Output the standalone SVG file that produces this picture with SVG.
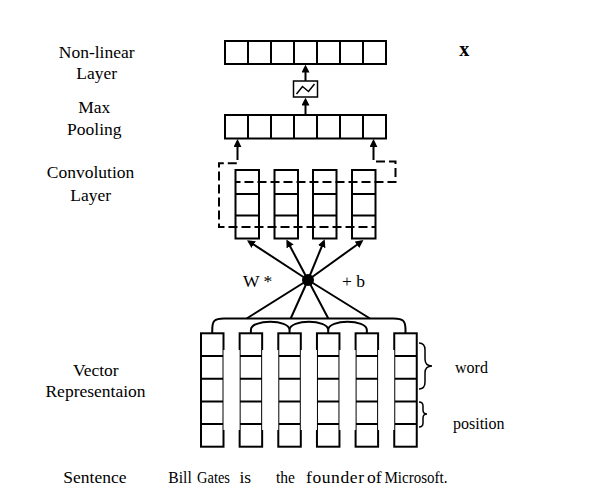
<svg xmlns="http://www.w3.org/2000/svg" width="600" height="485" viewBox="0 0 600 485">
<style>
.box{fill:#fff;stroke:#000;stroke-width:2}
.ln{stroke:#000;stroke-width:2;fill:none}
.dash{stroke:#000;stroke-width:2;fill:none;stroke-dasharray:9 4}
.lbl{font-family:"Liberation Serif","Times New Roman",serif;font-size:17.5px;fill:#000}
.mid{text-anchor:middle}
</style>
<defs>
<marker id="ah" viewBox="0 0 10 10" refX="7" refY="5" markerWidth="8" markerHeight="8" markerUnits="userSpaceOnUse" orient="auto">
<path d="M0,0 L10,5 L0,10 z" fill="#000"/>
</marker>
</defs>
<rect width="600" height="485" fill="#fff"/>

<g id="labels">
<text class="lbl mid" x="96.7" y="58">Non-linear</text>
<text class="lbl mid" x="96.7" y="78.5">Layer</text>
<text class="lbl mid" x="94.3" y="113">Max</text>
<text class="lbl mid" x="94.3" y="135">Pooling</text>
<text class="lbl mid" x="90.5" y="178">Convolution</text>
<text class="lbl mid" x="90.7" y="200.5">Layer</text>
<text class="lbl mid" x="95.8" y="375.7">Vector</text>
<text class="lbl mid" x="95.5" y="396.7">Representaion</text>
<text x="459.3" y="56" style="font-family:'Liberation Serif','Times New Roman',serif;font-size:20px;font-weight:bold">x</text>
</g>

<g id="nonlinear-layer">
<rect class="box" x="225" y="41" width="161" height="23"/>
<path class="ln" d="M248 41V64M271 41V64M294 41V64M317 41V64M340 41V64M363 41V64"/>
</g>

<g id="activation">
<rect x="293.5" y="81" width="24" height="16" fill="#fff" stroke="#000" stroke-width="1.5"/>
<path d="M296.5 94 L302.5 86.5 L308.5 91.5 L314.5 84" fill="none" stroke="#000" stroke-width="1.5"/>
</g>

<g id="max-pooling">
<rect class="box" x="225" y="115" width="161" height="23.5"/>
<path class="ln" d="M248 115V138.5M271 115V138.5M294 115V138.5M317 115V138.5M340 115V138.5M363 115V138.5"/>
</g>

<g id="convolution-layer">
<rect class="box" x="235.5" y="170" width="23.5" height="68.5"/>
<rect class="box" x="274.5" y="170" width="23.5" height="68.5"/>
<rect class="box" x="313" y="170" width="23.5" height="68.5"/>
<rect class="box" x="352" y="170" width="23.5" height="68.5"/>
<path class="ln" d="M235.5 194H259M235.5 215.5H259M274.5 194H298M274.5 215.5H298M313 194H336.5M313 215.5H336.5M352 194H375.5M352 215.5H375.5"/>
</g>

<g id="vector-representation">
<rect class="box" x="201" y="333.3" width="22.5" height="113.4"/>
<rect class="box" x="239.65" y="333.3" width="22.5" height="113.4"/>
<rect class="box" x="278.3" y="333.3" width="22.5" height="113.4"/>
<rect class="box" x="316.95" y="333.3" width="22.5" height="113.4"/>
<rect class="box" x="355.6" y="333.3" width="22.5" height="113.4"/>
<rect class="box" x="394.25" y="333.3" width="22.5" height="113.4"/>
<path class="ln" d="M201 356H416.75M201 378.7H416.75M201 401.4H416.75M201 424H416.75"/>
<rect x="223.5" y="350" width="16.15" height="80" fill="#fff"/>
<rect x="262.15" y="350" width="16.15" height="80" fill="#fff"/>
<rect x="300.8" y="350" width="16.15" height="80" fill="#fff"/>
<rect x="339.45" y="350" width="16.15" height="80" fill="#fff"/>
<rect x="378.1" y="350" width="16.15" height="80" fill="#fff"/>
</g>

<g id="braces">
<path d="M419 343 Q425 343 425 350 V359 Q425 366 432 366 Q425 366 425 373 V382 Q425 389 419 389" fill="none" stroke="#000" stroke-width="1.5"/>
<path d="M419 402 Q423 402 423 406 V410 Q423 414 427 414 Q423 414 423 418 V423 Q423 427 419 427" fill="none" stroke="#000" stroke-width="1.5"/>
<text class="lbl" x="455" y="373" style="font-size:16px">word</text>
<text class="lbl" x="453" y="429" style="font-size:16px">position</text>
</g>

<g id="connectors">
<line class="ln" x1="305.5" y1="115" x2="305.5" y2="100" stroke-width="2.5" marker-end="url(#ah)"/>
<line class="ln" x1="305.5" y1="81" x2="305.5" y2="67" stroke-width="2.5" marker-end="url(#ah)"/>
<line class="ln" x1="237.5" y1="151" x2="237.5" y2="141.5" marker-end="url(#ah)"/>
<line class="ln" x1="373.5" y1="151" x2="373.5" y2="141.5" marker-end="url(#ah)"/>
<path class="dash" d="M237.5 151V163.3H219V227H376"/>
<path class="dash" d="M373.5 151V161.5H395.5V182H235.5"/>
<line class="ln" x1="308" y1="280" x2="249" y2="241.5" marker-end="url(#ah)"/>
<line class="ln" x1="308" y1="280" x2="287.5" y2="241.5" marker-end="url(#ah)"/>
<line class="ln" x1="308" y1="280" x2="323.8" y2="241.5" marker-end="url(#ah)"/>
<line class="ln" x1="308" y1="280" x2="361.5" y2="241.5" marker-end="url(#ah)"/>
<path class="ln" d="M308 280L246.7 318.5M308 280L290.7 318.5M308 280L328.3 318.5M308 280L370 318.5"/>
<path class="ln" d="M212.25 333.3V330C212.25 321 214 318.5 224 318.5H393.5C403.5 318.5 405.5 321 405.5 330V333.3"/>
<path class="ln" d="M250.9 333.3V330C250.9 319 289.55 319 289.55 330C289.55 319 328.2 319 328.2 330C328.2 319 366.85 319 366.85 330V333.3M289.55 330V333.3M328.2 330V333.3"/>
<circle cx="308" cy="280" r="6" fill="#000"/>
<text class="lbl" x="243" y="286.5">W *</text>
<text class="lbl" x="342" y="286.5">+ b</text>
</g>

<g id="sentence">
<text class="lbl" x="63.3" y="482.5">Sentence</text>
<text class="lbl" x="168.3" y="482.5" textLength="23.5" lengthAdjust="spacingAndGlyphs">Bill</text>
<text class="lbl" x="197" y="482.5" textLength="33" lengthAdjust="spacingAndGlyphs">Gates</text>
<text class="lbl" x="239.5" y="482.5">is</text>
<text class="lbl" x="276" y="482.5" textLength="19" lengthAdjust="spacingAndGlyphs">the</text>
<text class="lbl" x="306" y="482.5" textLength="58" lengthAdjust="spacing">founder</text>
<text class="lbl" x="367" y="482.5">of</text>
<text class="lbl" x="384.5" y="482.5" textLength="63" lengthAdjust="spacingAndGlyphs">Microsoft.</text>
</g>
</svg>
